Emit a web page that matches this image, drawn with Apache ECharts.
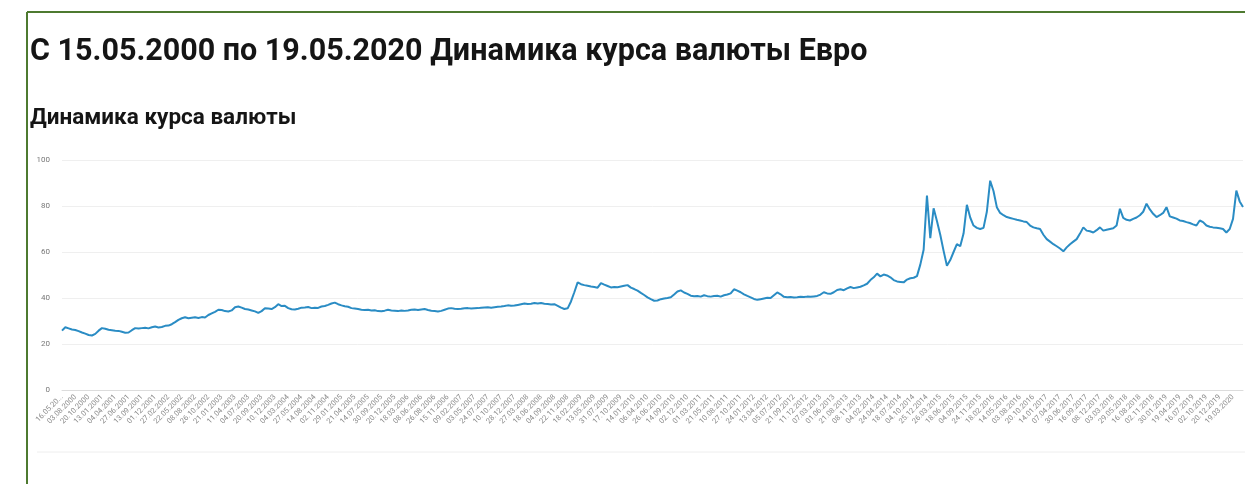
<!DOCTYPE html>
<html>
<head>
<meta charset="utf-8">
<script src="https://cdn.jsdelivr.net/npm/echarts@6/dist/echarts.min.js"></script>
<style>
html,body{margin:0;padding:0;background:#fff;}
#c{width:1245px;height:484px;}
</style>
</head>
<body>
<div id="c"></div>
<script>
// Tick labels on the category axis (one every 4 data points)
const tickLabels = [
'16.05.2000','03.08.2000','20.10.2000','13.01.2001','04.04.2001','27.06.2001','13.09.2001','01.12.2001',
'27.02.2002','22.05.2002','08.08.2002','26.10.2002','21.01.2003','11.04.2003','04.07.2003','20.09.2003',
'10.12.2003','04.03.2004','27.05.2004','14.08.2004','02.11.2004','29.01.2005','21.04.2005','14.07.2005',
'30.09.2005','20.12.2005','18.03.2006','08.06.2006','26.08.2006','15.11.2006','09.02.2007','03.05.2007',
'24.07.2007','10.10.2007','28.12.2007','27.03.2008','18.06.2008','04.09.2008','22.11.2008','18.02.2009',
'13.05.2009','31.07.2009','17.10.2009','14.01.2010','06.04.2010','26.06.2010','14.09.2010','02.12.2010',
'01.03.2011','21.05.2011','10.08.2011','27.10.2011','24.01.2012','13.04.2012','05.07.2012','21.09.2012',
'11.12.2012','07.03.2013','01.06.2013','21.08.2013','08.11.2013','04.02.2014','24.04.2014','18.07.2014',
'04.10.2014','25.12.2014','26.03.2015','18.06.2015','04.09.2015','24.11.2015','18.02.2016','14.05.2016',
'03.08.2016','20.10.2016','14.01.2017','07.04.2017','30.06.2017','16.09.2017','08.12.2017','03.03.2018',
'29.05.2018','16.08.2018','02.11.2018','30.01.2019','19.04.2019','16.07.2019','02.10.2019','20.12.2019',
'19.03.2020'
];
const pointsPerTick = 4;

// EUR rate (4 points per tick interval)
const values2000_2004 = [
25.8,27.3,26.8,26.3, 26.1,25.6,25.0,24.5, 23.9,23.7,24.4,25.8, 26.9,26.6,26.2,26.0,
25.8,25.7,25.3,24.9, 25.0,26.0,26.9,26.7, 26.9,27.1,26.8,27.3, 27.6,27.2,27.4,27.9,
28.0,28.6,29.5,30.5, 31.2,31.6,31.2,31.4, 31.6,31.3,31.7,31.5, 32.6,33.3,34.0,34.9,
34.8,34.3,34.1,34.6, 36.0,36.3,35.8,35.2, 35.0,34.6,34.2,33.5, 34.3,35.5,35.4,35.2,
36.0,37.3,36.5,36.6, 35.6,35.1,35.0,35.3, 35.8,35.9,36.1,35.6, 35.8,35.7,36.3,36.5
];
const values2004_2008 = [
37.0,37.6,38.0,37.3, 36.8,36.4,36.2,35.6, 35.4,35.2,34.9,34.8, 34.9,34.6,34.7,34.3,
34.2,34.5,34.9,34.6, 34.5,34.3,34.6,34.4, 34.6,34.9,35.0,34.8, 35.0,35.2,34.8,34.5,
34.3,34.1,34.4,34.9, 35.4,35.6,35.3,35.2, 35.3,35.5,35.6,35.4, 35.5,35.6,35.8,35.9,
36.0,35.8,36.0,36.2, 36.3,36.5,36.8,36.6, 36.7,37.0,37.3,37.6, 37.4,37.5,37.8,37.6,
37.8,37.5,37.4,37.2, 37.3,36.6,35.8,35.2
];
const values2008_2013 = [
35.5,38.5,42.5,46.8, 46.0,45.6,45.3,45.0, 44.8,44.5,46.5,45.8, 45.2,44.6,44.8,44.7,
45.0,45.3,45.6,44.5, 43.9,43.2,42.2,41.3, 40.3,39.5,38.8,38.9, 39.5,39.8,40.0,40.3,
41.5,42.8,43.3,42.4, 41.8,41.0,40.8,40.9, 40.6,41.2,40.8,40.6, 40.9,41.0,40.6,41.2,
41.5,42.0,43.8,43.2, 42.5,41.6,40.9,40.3, 39.6,39.2,39.5,39.8, 40.1,40.0,41.2,42.4,
41.6,40.5,40.3,40.4, 40.2,40.3,40.5,40.4, 40.6,40.5,40.7,40.9, 41.5,42.5,42.0,41.8,
42.5,43.5,43.8,43.4, 44.2,44.8,44.3,44.6, 44.9,45.5,46.2,47.8
];
const values2014_2020 = [
49.0,50.6,49.4,50.2, 49.8,49.0,47.8,47.2, 47.0,46.8,48.0,48.6, 48.8,49.5,54.5,61.0,
84.5,66.0,79.0,73.5, 67.5,60.5,54.0,56.5, 60.0,63.4,62.5,68.0, 80.5,75.0,71.5,70.5,
70.0,70.5,77.5,91.0, 86.5,79.5,77.0,76.0, 75.2,74.8,74.4,74.0, 73.7,73.3,73.0,71.5,
70.7,70.3,70.0,67.5, 65.6,64.5,63.4,62.5, 61.5,60.3,62.0,63.4, 64.5,65.6,68.0,70.7,
69.3,69.0,68.5,69.5, 70.7,69.3,69.7,70.0, 70.3,71.5,78.8,74.8, 74.0,73.7,74.4,75.0,
76.0,77.5,81.0,78.5, 76.6,75.2,76.0,77.0, 79.5,75.5,75.0,74.5, 73.7,73.5,73.0,72.6,
72.0,71.5,73.7,73.0, 71.5,71.0,70.7,70.5, 70.3,70.0,68.5,70.0, 74.4,86.7,82.0,79.6
];
const yTicks = [0, 20, 40, 60, 80, 100];

const values = [].concat(values2000_2004, values2004_2008, values2008_2013, values2014_2020);
const categories = values.map((v, i) => (i % pointsPerTick === 0 ? tickLabels[i / pointsPerTick] : 'p' + i));

const chart = echarts.init(document.getElementById('c'), null, {renderer: 'canvas'});
const font = 'Roboto, "Noto Sans", sans-serif';
chart.setOption({
  backgroundColor: '#ffffff',
  animation: false,
  title: [
    {text: 'С 15.05.2000 по 19.05.2020 Динамика курса валюты Евро', left: 30, top: 37, padding: 0,
     textStyle: {fontFamily: font, fontSize: 30.5, fontWeight: 'bold', color: '#151515'}},
    {text: 'Динамика курса валюты', left: 30, top: 107, padding: 0,
     textStyle: {fontFamily: font, fontSize: 22.5, fontWeight: 'bold', color: '#151515'}}
  ],
  graphic: [
    {type: 'line', shape: {x1: 27, y1: 12, x2: 27, y2: 484}, style: {stroke: '#4e7a30', lineWidth: 2}},
    {type: 'line', shape: {x1: 27, y1: 12, x2: 1245, y2: 12}, style: {stroke: '#4e7a30', lineWidth: 2}},
    {type: 'line', shape: {x1: 37, y1: 452, x2: 1245, y2: 452}, style: {stroke: '#eeeeee', lineWidth: 1}}
  ],
  grid: {left: 62, right: 2, top: 160, bottom: 94, containLabel: false},
  xAxis: {
    type: 'category',
    data: categories,
    boundaryGap: false,
    axisLine: {show: true, lineStyle: {color: '#dcdcdc'}},
    axisTick: {show: false},
    axisLabel: {
      interval: pointsPerTick - 1,
      rotate: 45,
      fontSize: 7.5,
      color: '#8a8a8a',
      fontFamily: font,
      margin: 6,
      formatter: (val, idx) => (idx === 0 ? val.slice(0, 8) + '...' : val)
    },
    splitLine: {show: false}
  },
  yAxis: {
    type: 'value',
    min: yTicks[0],
    max: yTicks[yTicks.length - 1],
    interval: 20,
    axisLine: {show: false},
    axisTick: {show: false},
    axisLabel: {fontSize: 8, color: '#777', fontFamily: font, margin: 12},
    splitLine: {lineStyle: {color: '#efefef'}}
  },
  series: [{
    type: 'line',
    data: values,
    showSymbol: false,
    symbol: 'none',
    lineStyle: {color: '#2a8cc4', width: 2},
    itemStyle: {color: '#2a8cc4'}
  }]
});
</script>
</body>
</html>
